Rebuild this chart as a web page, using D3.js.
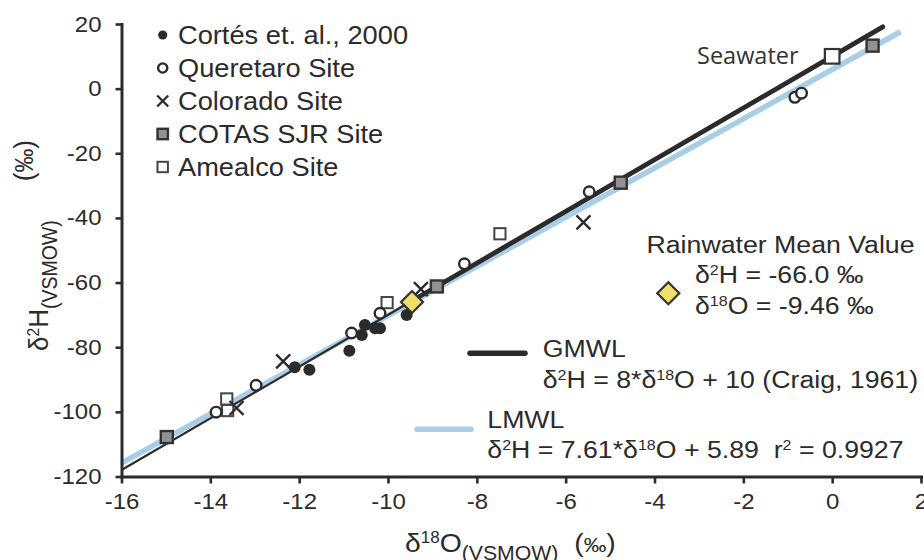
<!DOCTYPE html>
<html>
<head>
<meta charset="utf-8">
<script src="https://cdn.jsdelivr.net/npm/d3@7"></script>
<style>
  html, body { margin: 0; padding: 0; background: #fff; }
  svg { display: block; }
  text { font-family: "Liberation Sans", Arial, Helvetica, sans-serif; fill: #2b2b2b; white-space: pre; }
</style>
</head>
<body>
<svg id="chart" width="924" height="560"></svg>
<script>
// ---- data (δ18O, δ2H in ‰ VSMOW) ----
const cortes    = [[-12.1, -86.2], [-11.77, -87.0], [-10.87, -81.1], [-10.59, -76.2],
                   [-10.52, -73.1], [-10.29, -74.1], [-10.18, -74.1], [-9.58, -70.0]];
const queretaro = [[-13.87, -100.1], [-12.97, -91.8], [-10.82, -75.6], [-10.18, -69.5],
                   [-8.28, -54.2], [-5.47, -31.9], [-0.84, -2.7], [-0.69, -1.4]];
const colorado  = [[-13.41, -98.8], [-12.36, -84.4], [-9.26, -62.0], [-5.6, -41.4]];
const cotas     = [[-14.98, -107.8], [-8.9, -61.2], [-4.76, -29.1], [0.91, 13.3]];
const amealco   = [[-13.61, -99.6], [-13.63, -96.0], [-10.02, -66.2], [-7.48, -44.9]];
const seawater  = [[0.0, 10.0]];
const rainMean  = [[-9.46, -66.0]];

const gmwl = { slope: 8, intercept: 10 };        // Craig, 1961
const lmwl = { slope: 7.61, intercept: 5.89 };   // local fit
const gmwlThin  = [-16, -9.6];
const gmwlThick = [-9.6, 1.14];
const lmwlRange = [-16, 1.54];

const xTicks = [-16, -14, -12, -10, -8, -6, -4, -2, 0, 2];
const yTicks = [-120, -100, -80, -60, -40, -20, 0, 20];

const legendItems = [
  { label: "Cortés et. al., 2000", type: "dot" },
  { label: "Queretaro Site",       type: "ring" },
  { label: "Colorado Site",        type: "cross" },
  { label: "COTAS SJR Site",       type: "graySq" },
  { label: "Amealco Site",         type: "whiteSq" }
];

// ---- setup ----
const INK = "#2b2b2b";
const BLUE = "#a9cde6";
const SX = 1.09;   // horizontal text stretch

const svg = d3.select("#chart");
const x = d3.scaleLinear().domain([-16, 2]).range([121.5, 921]);
const y = d3.scaleLinear().domain([-120, 20]).range([476.5, 24]);

// rich text helper: parts are strings or {sup}, {sub}, {small}
function addText(parent, px, py, parts, opts = {}) {
  const fs = opts.size || 24.5;
  let tr = `translate(${px},${py})`;
  if (opts.rotate) tr += ` rotate(${opts.rotate}) scale(1,${SX})`;
  else tr += ` scale(${opts.sx || SX},1)`;
  const g = parent.append("g").attr("transform", tr);
  const t = g.append("text").attr("font-size", fs).attr("text-anchor", opts.anchor || "start");
  if (opts.family) t.style("font-family", opts.family);
  if (opts.fill) t.style("fill", opts.fill);
  const subScale = opts.subScale || 0.68;
  const smallScale = opts.smallScale || 0.8;
  let shift = 0;
  parts.forEach(p => {
    let txt, size = fs, off = 0;
    if (typeof p === "string") { txt = p; }
    else if (p.sup !== undefined) { txt = p.sup; size = fs * 0.6; off = -fs * 0.33; }
    else if (p.sub !== undefined) { txt = p.sub; size = fs * subScale; off = fs * 0.3; }
    else if (p.small !== undefined) { txt = p.small; size = fs * smallScale; off = 0; }
    t.append("tspan").attr("font-size", size).attr("dy", off - shift).text(txt);
    shift = off;
  });
  return t;
}

// marker drawing
function marker(parent, type, cx, cy, s) {
  const g = parent.append("g").attr("transform", `translate(${cx},${cy})`);
  switch (type) {
    case "dot":
      g.append("circle").attr("r", s).attr("fill", INK);
      break;
    case "ring":
      g.append("circle").attr("r", s).attr("fill", "#fff").attr("stroke", INK).attr("stroke-width", 2.4);
      break;
    case "cross":
      g.append("path").attr("d", `M${-s},${-s}L${s},${s}M${-s},${s}L${s},${-s}`)
        .attr("stroke", INK).attr("stroke-width", 2.4).attr("fill", "none");
      break;
    case "graySq":
      g.append("rect").attr("x", -s).attr("y", -s).attr("width", 2 * s).attr("height", 2 * s)
        .attr("fill", "#929292").attr("stroke", "#333").attr("stroke-width", 2.4);
      break;
    case "whiteSq":
      g.append("rect").attr("x", -s).attr("y", -s).attr("width", 2 * s).attr("height", 2 * s)
        .attr("fill", "#fff").attr("stroke", "#444").attr("stroke-width", 2);
      break;
    case "seaSq":
      g.append("rect").attr("x", -s).attr("y", -s).attr("width", 2 * s).attr("height", 2 * s)
        .attr("fill", "#fff").attr("stroke", "#333").attr("stroke-width", 2.2);
      break;
    case "diamond":
      g.append("path").attr("d", `M0,${-s}L${s},0L0,${s}L${-s},0Z`)
        .attr("fill", "#eee068").attr("stroke", "#333").attr("stroke-width", 2.2)
        .attr("stroke-linejoin", "miter");
      break;
  }
  return g;
}

// ---- meteoric water lines ----
const lineGen = d3.line().x(d => x(d[0])).y(d => y(d[1]));
const seg = (fit, r) => r.map(v => [v, fit.slope * v + fit.intercept]);

svg.append("path").attr("d", lineGen(seg(lmwl, lmwlRange)))
  .attr("stroke", BLUE).attr("stroke-width", 5.5).attr("fill", "none");
svg.append("path").attr("d", lineGen(seg(gmwl, gmwlThin)))
  .attr("stroke", INK).attr("stroke-width", 2.2).attr("fill", "none");
svg.append("path").attr("d", lineGen(seg(gmwl, gmwlThick)))
  .attr("stroke", INK).attr("stroke-width", 4.8).attr("fill", "none").attr("stroke-linecap", "round");

// ---- axes ----
const fmt = d => String(d);
const xAxis = svg.append("g").attr("transform", `translate(0,${y(-120)})`)
  .call(d3.axisBottom(x).tickValues(xTicks).tickSize(7).tickSizeOuter(0).tickPadding(10)
        .tickFormat(fmt));
const yAxis = svg.append("g").attr("transform", `translate(${x(-16)},0)`)
  .call(d3.axisLeft(y).tickValues(yTicks).tickSize(6).tickSizeOuter(0).tickPadding(14)
        .tickFormat(fmt));

[xAxis, yAxis].forEach(a => {
  a.attr("font-family", null).attr("font-size", null);
  a.select(".domain").attr("stroke", INK).attr("stroke-width", 3).attr("stroke-linecap", "square");
  a.selectAll(".tick line").attr("stroke", INK).attr("stroke-width", 2.6);
  a.selectAll(".tick text").attr("font-size", 22).style("fill", INK);
});
xAxis.selectAll(".tick text").attr("transform", `scale(${SX},1)`);
yAxis.selectAll(".tick text").attr("transform", `scale(${SX},1)`).attr("x", -20 / SX);

// ---- data points ----
const pts = svg.append("g");
const layers = [
  [amealco, "whiteSq", 5.6],
  [queretaro, "ring", 5.3],
  [cortes, "dot", 6],
  [colorado, "cross", 7],
  [cotas, "graySq", 6],
  [seawater, "seaSq", 7.3],
  [rainMean, "diamond", 11]
];
layers.forEach(([data, type, s]) => {
  data.forEach(d => marker(pts, type, x(d[0]), y(d[1]), s));
});

// ---- legend ----
const lg = svg.append("g");
legendItems.forEach((it, i) => {
  const cy = 35 + i * 33;
  const sizes = { dot: 4.6, ring: 4.6, cross: 5.5, graySq: 5.2, whiteSq: 5.2 };
  marker(lg, it.type, 162.7, cy, sizes[it.type]);
  addText(lg, 178, cy + 8.5, [it.label], { size: 25 });
});

// ---- annotations ----
addText(svg, 697, 63.5, ["Seawater"], { family: "'Open Sans', sans-serif", size: 23.5, fill: "#333", sx: 1 });

addText(svg, 646.5, 253.3, ["Rainwater Mean Value"]);
marker(svg, "diamond", 668.3, 293.3, 11);
addText(svg, 695, 283.3, ["δ", { sup: "2" }, "H = -66.0 ‰"]);
addText(svg, 695, 314.3, ["δ", { sup: "18" }, "O = -9.46 ‰"]);

svg.append("line").attr("x1", 470).attr("x2", 525).attr("y1", 353.3).attr("y2", 353.3)
  .attr("stroke", INK).attr("stroke-width", 5.5).attr("stroke-linecap", "round");
addText(svg, 542.7, 356.7, ["GMWL"]);
addText(svg, 542.7, 388.3, ["δ", { sup: "2" }, "H = 8*δ", { sup: "18" }, "O + 10 (Craig, 1961)"]);

svg.append("line").attr("x1", 417).attr("x2", 471).attr("y1", 429.3).attr("y2", 429.3)
  .attr("stroke", BLUE).attr("stroke-width", 5.5).attr("stroke-linecap", "round");
addText(svg, 487.3, 428.3, ["LMWL"]);
addText(svg, 487.3, 458.3, ["δ", { sup: "2" }, "H = 7.61*δ", { sup: "18" }, "O + 5.89  r", { sup: "2" }, " = 0.9927"]);

// ---- axis titles ----
addText(svg, 405, 552, ["δ", { sup: "18" }, "O", { sub: "(VSMOW)" }, "  (", { small: "‰" }, ")"],
  { size: 26, subScale: 0.75 });
addText(svg, 48, 351, ["δ", { sup: "2" }, "H", { sub: "(VSMOW)" }],
  { size: 26, subScale: 0.75, rotate: -90, anchor: "start" });
addText(svg, 33, 140, ["(", { small: "‰" }, ")"],
  { size: 26, smallScale: 0.92, rotate: -90, anchor: "end" });
</script>
</body>
</html>
